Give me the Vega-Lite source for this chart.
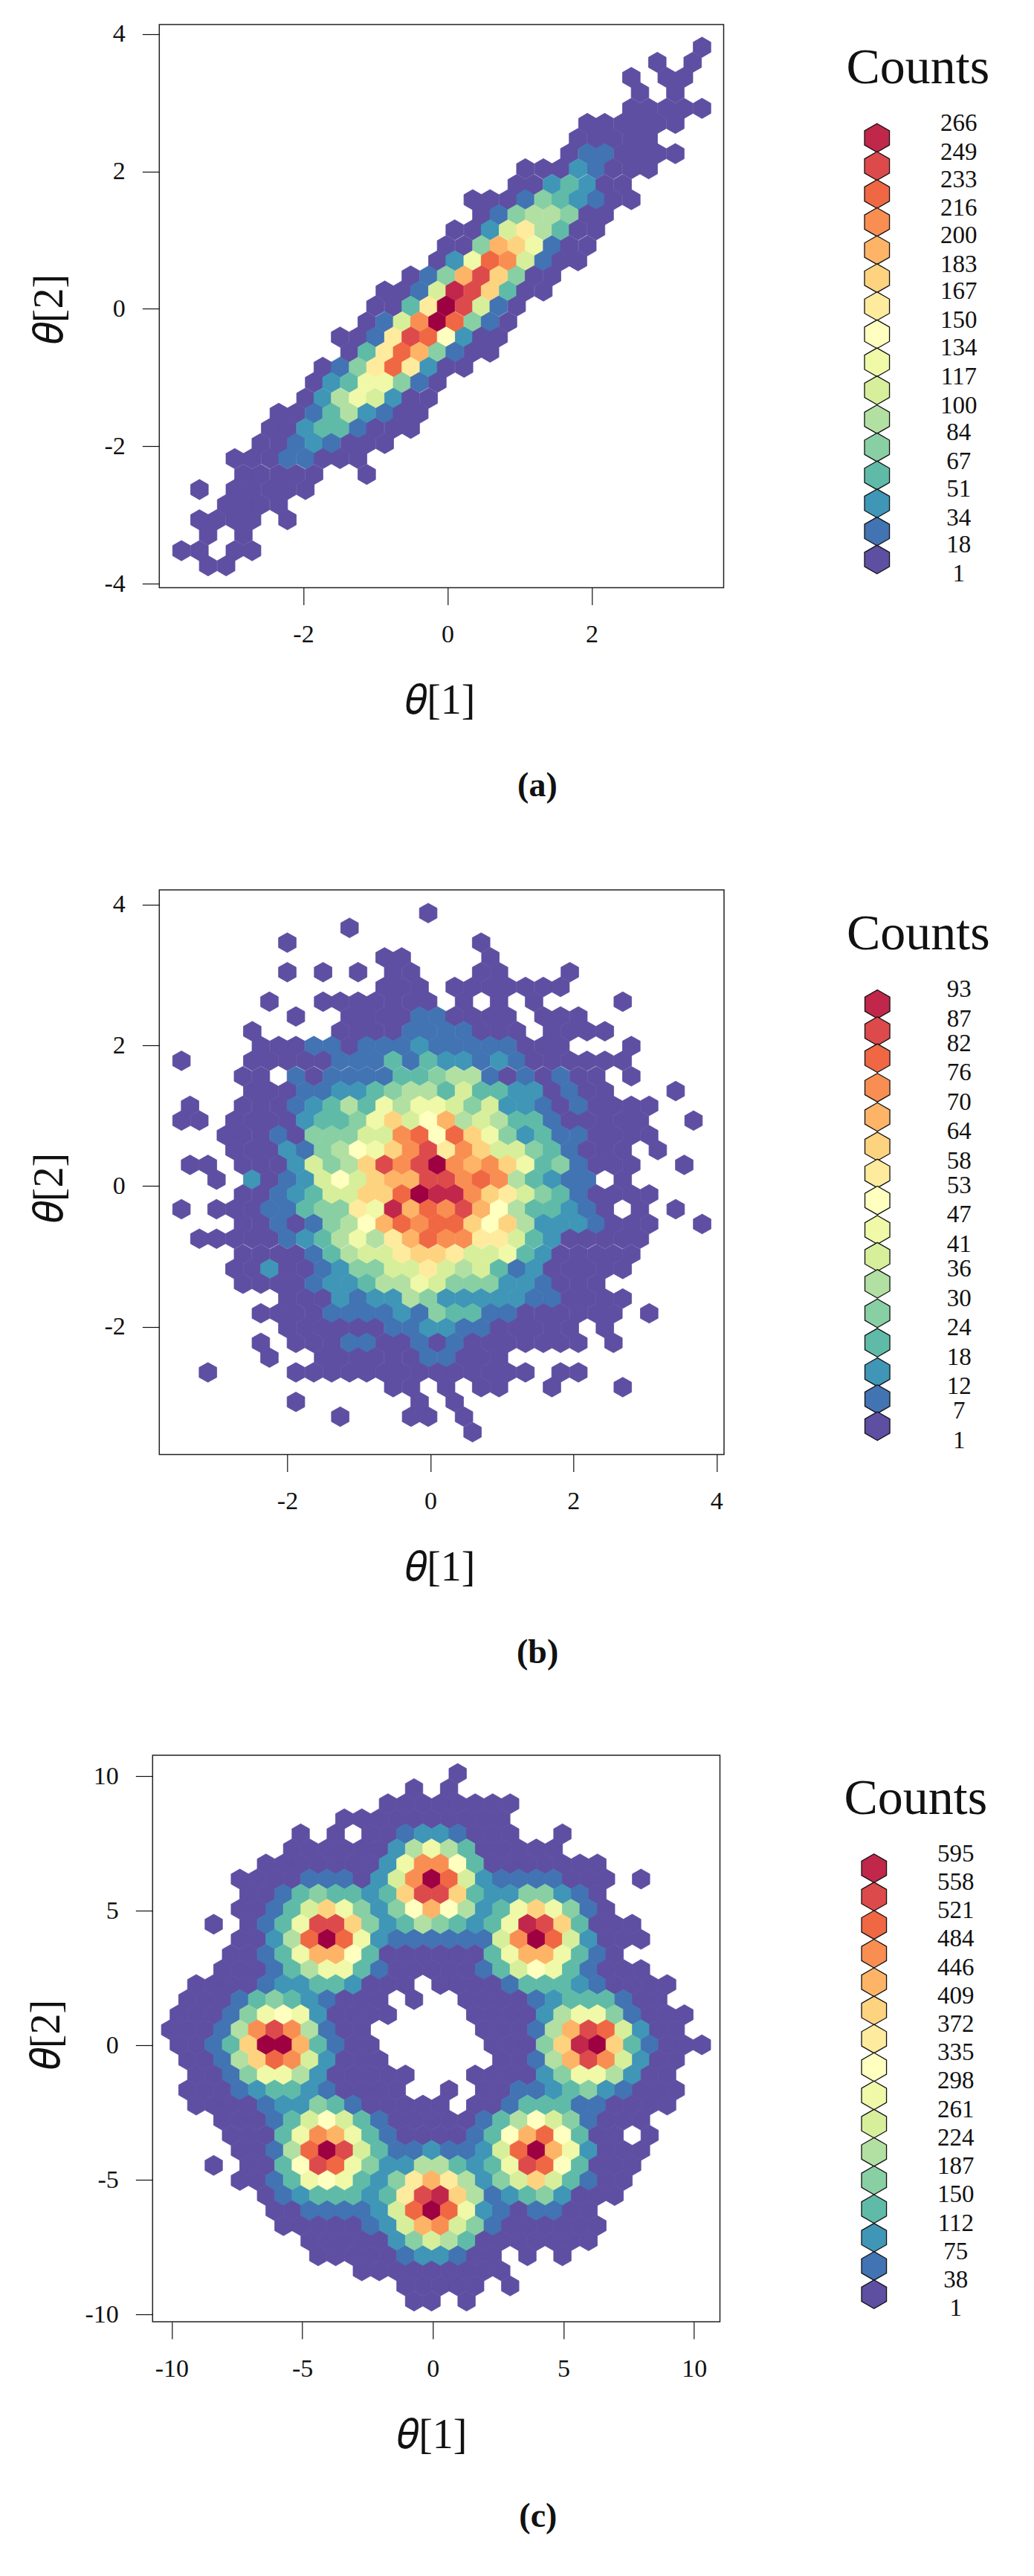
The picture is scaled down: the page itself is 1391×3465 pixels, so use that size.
{"$schema":"https://vega.github.io/schema/vega-lite/v6.json","autosize":{"type":"none"},"padding":{"left":205.3,"top":33,"right":1185.7,"bottom":3432},"background":"white",
"config":{"view":{"stroke":"#222","strokeWidth":1.5},"font":"Liberation Serif","axis":{"grid":false,"domain":false,"tickColor":"#111","tickSize":23,"tickWidth":1.2,"labelFont":"Liberation Serif","labelFontSize":34,"labelColor":"#111","titleFont":"Liberation Serif","titleFontSize":56,"titleFontWeight":"normal","titleColor":"#111","labelPadding":23,"titleBaseline":"middle"},"title":{"font":"Liberation Serif","baseline":"middle","color":"#111"}},
"datasets":{
"a":[
{"x":3.53,"y":3.81,"c":1},{"x":2.91,"y":3.59,"c":1},{"x":3.40,"y":3.59,"c":1},{"x":2.55,"y":3.37,"c":1},{"x":3.04,"y":3.37,"c":1},{"x":3.28,"y":3.37,"c":1},{"x":2.67,"y":3.15,"c":1},{"x":3.16,"y":3.15,"c":1},
{"x":2.55,"y":2.92,"c":1},{"x":2.79,"y":2.92,"c":1},{"x":3.04,"y":2.92,"c":1},{"x":3.28,"y":2.92,"c":1},{"x":3.53,"y":2.92,"c":1},
{"x":1.94,"y":2.70,"c":1},{"x":2.18,"y":2.70,"c":1},{"x":2.43,"y":2.70,"c":1},{"x":2.67,"y":2.70,"c":1},{"x":2.91,"y":2.70,"c":1},{"x":3.16,"y":2.70,"c":1},
{"x":1.81,"y":2.48,"c":1},{"x":2.06,"y":2.48,"c":1},{"x":2.30,"y":2.48,"c":1},{"x":2.55,"y":2.48,"c":1},{"x":2.79,"y":2.48,"c":1},
{"x":1.69,"y":2.26,"c":1},{"x":1.94,"y":2.26,"c":18},{"x":2.18,"y":2.26,"c":18},{"x":2.43,"y":2.26,"c":1},{"x":2.67,"y":2.26,"c":1},{"x":2.91,"y":2.26,"c":1},{"x":3.16,"y":2.26,"c":1},
{"x":1.08,"y":2.04,"c":1},{"x":1.33,"y":2.04,"c":1},{"x":1.57,"y":2.04,"c":1},{"x":1.81,"y":2.04,"c":34},{"x":2.06,"y":2.04,"c":18},{"x":2.30,"y":2.04,"c":1},{"x":2.55,"y":2.04,"c":1},{"x":2.79,"y":2.04,"c":1},
{"x":0.96,"y":1.81,"c":1},{"x":1.20,"y":1.81,"c":1},{"x":1.45,"y":1.81,"c":34},{"x":1.69,"y":1.81,"c":51},{"x":1.94,"y":1.81,"c":34},{"x":2.18,"y":1.81,"c":1},{"x":2.43,"y":1.81,"c":1},
{"x":0.35,"y":1.59,"c":1},{"x":0.59,"y":1.59,"c":1},{"x":0.84,"y":1.59,"c":1},{"x":1.08,"y":1.59,"c":18},{"x":1.33,"y":1.59,"c":67},{"x":1.57,"y":1.59,"c":51},{"x":1.81,"y":1.59,"c":34},{"x":2.06,"y":1.59,"c":18},{"x":2.30,"y":1.59,"c":1},{"x":2.55,"y":1.59,"c":1},
{"x":0.47,"y":1.37,"c":1},{"x":0.71,"y":1.37,"c":18},{"x":0.96,"y":1.37,"c":67},{"x":1.20,"y":1.37,"c":84},{"x":1.45,"y":1.37,"c":84},{"x":1.69,"y":1.37,"c":67},{"x":1.94,"y":1.37,"c":1},{"x":2.18,"y":1.37,"c":1},
{"x":0.10,"y":1.15,"c":1},{"x":0.35,"y":1.15,"c":1},{"x":0.59,"y":1.15,"c":34},{"x":0.84,"y":1.15,"c":100},{"x":1.08,"y":1.15,"c":150},{"x":1.33,"y":1.15,"c":84},{"x":1.57,"y":1.15,"c":51},{"x":1.81,"y":1.15,"c":1},{"x":2.06,"y":1.15,"c":1},
{"x":-0.02,"y":0.92,"c":1},{"x":0.23,"y":0.92,"c":1},{"x":0.47,"y":0.92,"c":67},{"x":0.71,"y":0.92,"c":183},{"x":0.96,"y":0.92,"c":167},{"x":1.20,"y":0.92,"c":117},{"x":1.45,"y":0.92,"c":18},{"x":1.69,"y":0.92,"c":1},{"x":1.94,"y":0.92,"c":1},
{"x":-0.14,"y":0.70,"c":1},{"x":0.10,"y":0.70,"c":34},{"x":0.35,"y":0.70,"c":117},{"x":0.59,"y":0.70,"c":216},{"x":0.84,"y":0.70,"c":200},{"x":1.08,"y":0.70,"c":100},{"x":1.33,"y":0.70,"c":18},{"x":1.57,"y":0.70,"c":1},{"x":1.81,"y":0.70,"c":1},
{"x":-0.51,"y":0.48,"c":1},{"x":-0.26,"y":0.48,"c":18},{"x":-0.02,"y":0.48,"c":67},{"x":0.23,"y":0.48,"c":183},{"x":0.47,"y":0.48,"c":233},{"x":0.71,"y":0.48,"c":167},{"x":0.96,"y":0.48,"c":67},{"x":1.20,"y":0.48,"c":1},{"x":1.45,"y":0.48,"c":1},
{"x":-0.87,"y":0.26,"c":1},{"x":-0.63,"y":0.26,"c":1},{"x":-0.39,"y":0.26,"c":18},{"x":-0.14,"y":0.26,"c":100},{"x":0.10,"y":0.26,"c":249},{"x":0.35,"y":0.26,"c":233},{"x":0.59,"y":0.26,"c":167},{"x":0.84,"y":0.26,"c":51},{"x":1.08,"y":0.26,"c":1},{"x":1.33,"y":0.26,"c":1},
{"x":-1.00,"y":0.04,"c":1},{"x":-0.75,"y":0.04,"c":1},{"x":-0.51,"y":0.04,"c":51},{"x":-0.26,"y":0.04,"c":150},{"x":-0.02,"y":0.04,"c":266},{"x":0.23,"y":0.04,"c":233},{"x":0.47,"y":0.04,"c":100},{"x":0.71,"y":0.04,"c":18},{"x":0.96,"y":0.04,"c":1},
{"x":-1.12,"y":-0.19,"c":1},{"x":-0.87,"y":-0.19,"c":18},{"x":-0.63,"y":-0.19,"c":100},{"x":-0.39,"y":-0.19,"c":200},{"x":-0.14,"y":-0.19,"c":266},{"x":0.10,"y":-0.19,"c":216},{"x":0.35,"y":-0.19,"c":67},{"x":0.59,"y":-0.19,"c":18},{"x":0.84,"y":-0.19,"c":1},
{"x":-1.49,"y":-0.41,"c":1},{"x":-1.24,"y":-0.41,"c":1},{"x":-1.00,"y":-0.41,"c":18},{"x":-0.75,"y":-0.41,"c":150},{"x":-0.51,"y":-0.41,"c":233},{"x":-0.26,"y":-0.41,"c":216},{"x":-0.02,"y":-0.41,"c":134},{"x":0.23,"y":-0.41,"c":34},{"x":0.47,"y":-0.41,"c":1},{"x":0.71,"y":-0.41,"c":1},
{"x":-1.36,"y":-0.63,"c":1},{"x":-1.12,"y":-0.63,"c":51},{"x":-0.87,"y":-0.63,"c":150},{"x":-0.63,"y":-0.63,"c":216},{"x":-0.39,"y":-0.63,"c":183},{"x":-0.14,"y":-0.63,"c":67},{"x":0.10,"y":-0.63,"c":18},{"x":0.35,"y":-0.63,"c":1},{"x":0.59,"y":-0.63,"c":1},
{"x":-1.73,"y":-0.85,"c":1},{"x":-1.49,"y":-0.85,"c":18},{"x":-1.24,"y":-0.85,"c":67},{"x":-1.00,"y":-0.85,"c":150},{"x":-0.75,"y":-0.85,"c":216},{"x":-0.51,"y":-0.85,"c":150},{"x":-0.26,"y":-0.85,"c":34},{"x":-0.02,"y":-0.85,"c":1},{"x":0.23,"y":-0.85,"c":1},
{"x":-1.85,"y":-1.07,"c":1},{"x":-1.61,"y":-1.07,"c":34},{"x":-1.36,"y":-1.07,"c":51},{"x":-1.12,"y":-1.07,"c":117},{"x":-0.87,"y":-1.07,"c":117},{"x":-0.63,"y":-1.07,"c":67},{"x":-0.39,"y":-1.07,"c":18},{"x":-0.14,"y":-1.07,"c":1},
{"x":-1.97,"y":-1.30,"c":1},{"x":-1.73,"y":-1.30,"c":34},{"x":-1.49,"y":-1.30,"c":84},{"x":-1.24,"y":-1.30,"c":117},{"x":-1.00,"y":-1.30,"c":100},{"x":-0.75,"y":-1.30,"c":34},{"x":-0.51,"y":-1.30,"c":1},{"x":-0.26,"y":-1.30,"c":1},
{"x":-2.34,"y":-1.52,"c":1},{"x":-2.10,"y":-1.52,"c":1},{"x":-1.85,"y":-1.52,"c":18},{"x":-1.61,"y":-1.52,"c":51},{"x":-1.36,"y":-1.52,"c":84},{"x":-1.12,"y":-1.52,"c":34},{"x":-0.87,"y":-1.52,"c":18},{"x":-0.63,"y":-1.52,"c":1},{"x":-0.39,"y":-1.52,"c":1},
{"x":-2.46,"y":-1.74,"c":1},{"x":-2.22,"y":-1.74,"c":1},{"x":-1.97,"y":-1.74,"c":34},{"x":-1.73,"y":-1.74,"c":51},{"x":-1.49,"y":-1.74,"c":51},{"x":-1.24,"y":-1.74,"c":18},{"x":-1.00,"y":-1.74,"c":1},{"x":-0.75,"y":-1.74,"c":1},{"x":-0.51,"y":-1.74,"c":1},
{"x":-2.59,"y":-1.96,"c":1},{"x":-2.34,"y":-1.96,"c":1},{"x":-2.10,"y":-1.96,"c":18},{"x":-1.85,"y":-1.96,"c":34},{"x":-1.61,"y":-1.96,"c":18},{"x":-1.36,"y":-1.96,"c":1},{"x":-1.12,"y":-1.96,"c":1},{"x":-0.87,"y":-1.96,"c":1},
{"x":-2.95,"y":-2.18,"c":1},{"x":-2.71,"y":-2.18,"c":1},{"x":-2.46,"y":-2.18,"c":1},{"x":-2.22,"y":-2.18,"c":18},{"x":-1.97,"y":-2.18,"c":18},{"x":-1.73,"y":-2.18,"c":1},{"x":-1.49,"y":-2.18,"c":1},{"x":-1.24,"y":-2.18,"c":1},
{"x":-2.83,"y":-2.41,"c":1},{"x":-2.59,"y":-2.41,"c":1},{"x":-2.34,"y":-2.41,"c":1},{"x":-2.10,"y":-2.41,"c":1},{"x":-1.85,"y":-2.41,"c":1},{"x":-1.12,"y":-2.41,"c":1},
{"x":-3.44,"y":-2.63,"c":1},{"x":-2.95,"y":-2.63,"c":1},{"x":-2.71,"y":-2.63,"c":1},{"x":-2.46,"y":-2.63,"c":1},{"x":-2.22,"y":-2.63,"c":1},{"x":-1.97,"y":-2.63,"c":1},
{"x":-3.07,"y":-2.85,"c":1},{"x":-2.83,"y":-2.85,"c":1},{"x":-2.59,"y":-2.85,"c":1},{"x":-2.34,"y":-2.85,"c":1},
{"x":-3.44,"y":-3.07,"c":1},{"x":-3.20,"y":-3.07,"c":1},{"x":-2.95,"y":-3.07,"c":1},{"x":-2.71,"y":-3.07,"c":1},{"x":-2.22,"y":-3.07,"c":1},
{"x":-3.32,"y":-3.29,"c":1},{"x":-2.83,"y":-3.29,"c":1},
{"x":-3.69,"y":-3.52,"c":1},{"x":-3.44,"y":-3.52,"c":1},{"x":-2.95,"y":-3.52,"c":1},{"x":-2.71,"y":-3.52,"c":1},
{"x":-3.32,"y":-3.74,"c":1},{"x":-3.07,"y":-3.74,"c":1}
],
"b":[
{"x":-0.03,"y":3.88,"c":1},{"x":-1.13,"y":3.67,"c":1},{"x":-2.00,"y":3.46,"c":1},{"x":0.71,"y":3.46,"c":1},{"x":-0.64,"y":3.25,"c":1},{"x":-0.40,"y":3.25,"c":1},{"x":0.84,"y":3.25,"c":1},
{"x":-2.00,"y":3.04,"c":1},{"x":-1.50,"y":3.04,"c":1},{"x":-1.01,"y":3.04,"c":1},{"x":-0.52,"y":3.04,"c":1},{"x":-0.27,"y":3.04,"c":1},{"x":0.71,"y":3.04,"c":1},{"x":0.96,"y":3.04,"c":1},{"x":1.95,"y":3.04,"c":1},
{"x":-0.64,"y":2.83,"c":1},{"x":-0.40,"y":2.83,"c":1},{"x":-0.15,"y":2.83,"c":1},{"x":0.34,"y":2.83,"c":1},{"x":0.59,"y":2.83,"c":1},{"x":0.84,"y":2.83,"c":1},{"x":1.08,"y":2.83,"c":1},{"x":1.33,"y":2.83,"c":1},{"x":1.58,"y":2.83,"c":1},{"x":1.82,"y":2.83,"c":1},
{"x":-2.25,"y":2.62,"c":1},{"x":-1.50,"y":2.62,"c":1},{"x":-1.26,"y":2.62,"c":1},{"x":-1.01,"y":2.62,"c":1},{"x":-0.77,"y":2.62,"c":1},{"x":-0.52,"y":2.62,"c":1},{"x":-0.27,"y":2.62,"c":1},{"x":-0.03,"y":2.62,"c":1},{"x":0.47,"y":2.62,"c":1},{"x":0.96,"y":2.62,"c":1},{"x":1.45,"y":2.62,"c":1},{"x":2.69,"y":2.62,"c":1},
{"x":-1.88,"y":2.41,"c":1},{"x":-1.13,"y":2.41,"c":1},{"x":-0.89,"y":2.41,"c":1},{"x":-0.64,"y":2.41,"c":1},{"x":-0.40,"y":2.41,"c":1},{"x":-0.15,"y":2.41,"c":7},{"x":0.10,"y":2.41,"c":7},{"x":0.34,"y":2.41,"c":1},{"x":0.59,"y":2.41,"c":1},{"x":0.84,"y":2.41,"c":1},{"x":1.08,"y":2.41,"c":1},{"x":1.58,"y":2.41,"c":1},{"x":1.82,"y":2.41,"c":1},{"x":2.07,"y":2.41,"c":1},
{"x":-2.49,"y":2.20,"c":1},{"x":-1.26,"y":2.20,"c":1},{"x":-1.01,"y":2.20,"c":1},{"x":-0.77,"y":2.20,"c":1},{"x":-0.52,"y":2.20,"c":1},{"x":-0.27,"y":2.20,"c":7},{"x":-0.03,"y":2.20,"c":7},{"x":0.22,"y":2.20,"c":7},{"x":0.47,"y":2.20,"c":7},{"x":0.71,"y":2.20,"c":1},{"x":0.96,"y":2.20,"c":1},{"x":1.21,"y":2.20,"c":1},{"x":1.70,"y":2.20,"c":1},{"x":1.95,"y":2.20,"c":1},{"x":2.19,"y":2.20,"c":1},{"x":2.44,"y":2.20,"c":1},
{"x":-2.37,"y":1.99,"c":1},{"x":-2.12,"y":1.99,"c":1},{"x":-1.88,"y":1.99,"c":1},{"x":-1.63,"y":1.99,"c":7},{"x":-1.38,"y":1.99,"c":7},{"x":-1.13,"y":1.99,"c":1},{"x":-0.89,"y":1.99,"c":7},{"x":-0.64,"y":1.99,"c":7},{"x":-0.40,"y":1.99,"c":7},{"x":-0.15,"y":1.99,"c":12},{"x":0.10,"y":1.99,"c":7},{"x":0.34,"y":1.99,"c":7},{"x":0.59,"y":1.99,"c":7},{"x":0.84,"y":1.99,"c":7},{"x":1.08,"y":1.99,"c":7},{"x":1.33,"y":1.99,"c":1},{"x":1.58,"y":1.99,"c":1},{"x":1.82,"y":1.99,"c":1},{"x":2.81,"y":1.99,"c":1},
{"x":-3.48,"y":1.78,"c":1},{"x":-2.49,"y":1.78,"c":1},{"x":-2.25,"y":1.78,"c":1},{"x":-2.00,"y":1.78,"c":1},{"x":-1.75,"y":1.78,"c":1},{"x":-1.50,"y":1.78,"c":1},{"x":-1.26,"y":1.78,"c":7},{"x":-1.01,"y":1.78,"c":7},{"x":-0.77,"y":1.78,"c":7},{"x":-0.52,"y":1.78,"c":18},{"x":-0.27,"y":1.78,"c":7},{"x":-0.03,"y":1.78,"c":18},{"x":0.22,"y":1.78,"c":12},{"x":0.47,"y":1.78,"c":12},{"x":0.71,"y":1.78,"c":7},{"x":0.96,"y":1.78,"c":12},{"x":1.21,"y":1.78,"c":7},{"x":1.45,"y":1.78,"c":1},{"x":1.70,"y":1.78,"c":1},{"x":1.95,"y":1.78,"c":1},{"x":2.19,"y":1.78,"c":1},{"x":2.44,"y":1.78,"c":1},{"x":2.69,"y":1.78,"c":1},
{"x":-2.62,"y":1.56,"c":1},{"x":-2.37,"y":1.56,"c":1},{"x":-1.88,"y":1.56,"c":7},{"x":-1.63,"y":1.56,"c":1},{"x":-1.38,"y":1.56,"c":7},{"x":-1.13,"y":1.56,"c":7},{"x":-0.89,"y":1.56,"c":7},{"x":-0.64,"y":1.56,"c":7},{"x":-0.40,"y":1.56,"c":18},{"x":-0.15,"y":1.56,"c":18},{"x":0.10,"y":1.56,"c":24},{"x":0.34,"y":1.56,"c":30},{"x":0.59,"y":1.56,"c":30},{"x":0.84,"y":1.56,"c":7},{"x":1.08,"y":1.56,"c":1},{"x":1.33,"y":1.56,"c":7},{"x":1.58,"y":1.56,"c":1},{"x":1.82,"y":1.56,"c":7},{"x":2.07,"y":1.56,"c":1},{"x":2.32,"y":1.56,"c":1},{"x":2.81,"y":1.56,"c":1},
{"x":-2.49,"y":1.35,"c":1},{"x":-2.25,"y":1.35,"c":1},{"x":-2.00,"y":1.35,"c":1},{"x":-1.75,"y":1.35,"c":7},{"x":-1.50,"y":1.35,"c":7},{"x":-1.26,"y":1.35,"c":12},{"x":-1.01,"y":1.35,"c":12},{"x":-0.77,"y":1.35,"c":18},{"x":-0.52,"y":1.35,"c":24},{"x":-0.27,"y":1.35,"c":30},{"x":-0.03,"y":1.35,"c":30},{"x":0.22,"y":1.35,"c":18},{"x":0.47,"y":1.35,"c":36},{"x":0.71,"y":1.35,"c":18},{"x":0.96,"y":1.35,"c":18},{"x":1.21,"y":1.35,"c":12},{"x":1.45,"y":1.35,"c":12},{"x":1.70,"y":1.35,"c":1},{"x":1.95,"y":1.35,"c":7},{"x":2.19,"y":1.35,"c":1},{"x":2.44,"y":1.35,"c":1},{"x":3.43,"y":1.35,"c":1},
{"x":-3.36,"y":1.14,"c":1},{"x":-2.62,"y":1.14,"c":1},{"x":-2.37,"y":1.14,"c":1},{"x":-2.12,"y":1.14,"c":1},{"x":-1.88,"y":1.14,"c":7},{"x":-1.63,"y":1.14,"c":12},{"x":-1.38,"y":1.14,"c":18},{"x":-1.13,"y":1.14,"c":30},{"x":-0.89,"y":1.14,"c":18},{"x":-0.64,"y":1.14,"c":41},{"x":-0.40,"y":1.14,"c":30},{"x":-0.15,"y":1.14,"c":41},{"x":0.10,"y":1.14,"c":41},{"x":0.34,"y":1.14,"c":36},{"x":0.59,"y":1.14,"c":24},{"x":0.84,"y":1.14,"c":36},{"x":1.08,"y":1.14,"c":12},{"x":1.33,"y":1.14,"c":12},{"x":1.58,"y":1.14,"c":7},{"x":1.82,"y":1.14,"c":1},{"x":2.07,"y":1.14,"c":7},{"x":2.32,"y":1.14,"c":1},{"x":2.56,"y":1.14,"c":1},{"x":2.81,"y":1.14,"c":1},{"x":3.06,"y":1.14,"c":1},
{"x":-3.48,"y":0.93,"c":1},{"x":-3.23,"y":0.93,"c":1},{"x":-2.74,"y":0.93,"c":1},{"x":-2.49,"y":0.93,"c":1},{"x":-2.25,"y":0.93,"c":1},{"x":-2.00,"y":0.93,"c":1},{"x":-1.75,"y":0.93,"c":12},{"x":-1.50,"y":0.93,"c":18},{"x":-1.26,"y":0.93,"c":18},{"x":-1.01,"y":0.93,"c":24},{"x":-0.77,"y":0.93,"c":41},{"x":-0.52,"y":0.93,"c":58},{"x":-0.27,"y":0.93,"c":36},{"x":-0.03,"y":0.93,"c":47},{"x":0.22,"y":0.93,"c":64},{"x":0.47,"y":0.93,"c":30},{"x":0.71,"y":0.93,"c":36},{"x":0.96,"y":0.93,"c":30},{"x":1.21,"y":0.93,"c":18},{"x":1.45,"y":0.93,"c":18},{"x":1.70,"y":0.93,"c":7},{"x":1.95,"y":0.93,"c":1},{"x":2.19,"y":0.93,"c":1},{"x":2.44,"y":0.93,"c":1},{"x":2.69,"y":0.93,"c":1},{"x":2.93,"y":0.93,"c":1},{"x":3.68,"y":0.93,"c":1},
{"x":-2.86,"y":0.72,"c":1},{"x":-2.62,"y":0.72,"c":1},{"x":-2.37,"y":0.72,"c":1},{"x":-2.12,"y":0.72,"c":7},{"x":-1.88,"y":0.72,"c":1},{"x":-1.63,"y":0.72,"c":24},{"x":-1.38,"y":0.72,"c":24},{"x":-1.13,"y":0.72,"c":24},{"x":-0.89,"y":0.72,"c":36},{"x":-0.64,"y":0.72,"c":36},{"x":-0.40,"y":0.72,"c":70},{"x":-0.15,"y":0.72,"c":76},{"x":0.10,"y":0.72,"c":47},{"x":0.34,"y":0.72,"c":76},{"x":0.59,"y":0.72,"c":58},{"x":0.84,"y":0.72,"c":41},{"x":1.08,"y":0.72,"c":24},{"x":1.33,"y":0.72,"c":12},{"x":1.58,"y":0.72,"c":18},{"x":1.82,"y":0.72,"c":7},{"x":2.07,"y":0.72,"c":7},{"x":2.32,"y":0.72,"c":1},{"x":2.56,"y":0.72,"c":1},{"x":2.81,"y":0.72,"c":1},{"x":3.06,"y":0.72,"c":1},
{"x":-2.74,"y":0.51,"c":1},{"x":-2.49,"y":0.51,"c":1},{"x":-2.25,"y":0.51,"c":1},{"x":-2.00,"y":0.51,"c":12},{"x":-1.75,"y":0.51,"c":7},{"x":-1.50,"y":0.51,"c":24},{"x":-1.26,"y":0.51,"c":30},{"x":-1.01,"y":0.51,"c":47},{"x":-0.77,"y":0.51,"c":41},{"x":-0.52,"y":0.51,"c":58},{"x":-0.27,"y":0.51,"c":70},{"x":-0.03,"y":0.51,"c":82},{"x":0.22,"y":0.51,"c":53},{"x":0.47,"y":0.51,"c":70},{"x":0.71,"y":0.51,"c":58},{"x":0.96,"y":0.51,"c":36},{"x":1.21,"y":0.51,"c":36},{"x":1.45,"y":0.51,"c":24},{"x":1.70,"y":0.51,"c":18},{"x":1.95,"y":0.51,"c":7},{"x":2.19,"y":0.51,"c":1},{"x":2.44,"y":0.51,"c":1},{"x":2.69,"y":0.51,"c":1},{"x":3.18,"y":0.51,"c":1},
{"x":-3.36,"y":0.30,"c":1},{"x":-3.11,"y":0.30,"c":1},{"x":-2.62,"y":0.30,"c":1},{"x":-2.37,"y":0.30,"c":1},{"x":-2.12,"y":0.30,"c":1},{"x":-1.88,"y":0.30,"c":12},{"x":-1.63,"y":0.30,"c":36},{"x":-1.38,"y":0.30,"c":24},{"x":-1.13,"y":0.30,"c":30},{"x":-0.89,"y":0.30,"c":58},{"x":-0.64,"y":0.30,"c":82},{"x":-0.40,"y":0.30,"c":70},{"x":-0.15,"y":0.30,"c":82},{"x":0.10,"y":0.30,"c":93},{"x":0.34,"y":0.30,"c":70},{"x":0.59,"y":0.30,"c":64},{"x":0.84,"y":0.30,"c":70},{"x":1.08,"y":0.30,"c":58},{"x":1.33,"y":0.30,"c":41},{"x":1.58,"y":0.30,"c":18},{"x":1.82,"y":0.30,"c":24},{"x":2.07,"y":0.30,"c":7},{"x":2.32,"y":0.30,"c":1},{"x":2.56,"y":0.30,"c":1},{"x":2.81,"y":0.30,"c":1},{"x":3.55,"y":0.30,"c":1},
{"x":-2.99,"y":0.09,"c":1},{"x":-2.49,"y":0.09,"c":12},{"x":-2.25,"y":0.09,"c":1},{"x":-2.00,"y":0.09,"c":7},{"x":-1.75,"y":0.09,"c":12},{"x":-1.50,"y":0.09,"c":36},{"x":-1.26,"y":0.09,"c":47},{"x":-1.01,"y":0.09,"c":36},{"x":-0.77,"y":0.09,"c":58},{"x":-0.52,"y":0.09,"c":64},{"x":-0.27,"y":0.09,"c":64},{"x":-0.03,"y":0.09,"c":82},{"x":0.22,"y":0.09,"c":82},{"x":0.47,"y":0.09,"c":70},{"x":0.71,"y":0.09,"c":76},{"x":0.96,"y":0.09,"c":70},{"x":1.21,"y":0.09,"c":30},{"x":1.45,"y":0.09,"c":18},{"x":1.70,"y":0.09,"c":12},{"x":1.95,"y":0.09,"c":7},{"x":2.19,"y":0.09,"c":7},{"x":2.69,"y":0.09,"c":1},
{"x":-2.62,"y":-0.12,"c":1},{"x":-2.37,"y":-0.12,"c":1},{"x":-2.12,"y":-0.12,"c":7},{"x":-1.88,"y":-0.12,"c":12},{"x":-1.63,"y":-0.12,"c":18},{"x":-1.38,"y":-0.12,"c":36},{"x":-1.13,"y":-0.12,"c":36},{"x":-0.89,"y":-0.12,"c":58},{"x":-0.64,"y":-0.12,"c":58},{"x":-0.40,"y":-0.12,"c":76},{"x":-0.15,"y":-0.12,"c":93},{"x":0.10,"y":-0.12,"c":87},{"x":0.34,"y":-0.12,"c":87},{"x":0.59,"y":-0.12,"c":70},{"x":0.84,"y":-0.12,"c":58},{"x":1.08,"y":-0.12,"c":53},{"x":1.33,"y":-0.12,"c":36},{"x":1.58,"y":-0.12,"c":24},{"x":1.82,"y":-0.12,"c":18},{"x":2.07,"y":-0.12,"c":7},{"x":2.32,"y":-0.12,"c":1},{"x":2.56,"y":-0.12,"c":1},{"x":2.81,"y":-0.12,"c":1},{"x":3.06,"y":-0.12,"c":1},
{"x":-3.48,"y":-0.33,"c":1},{"x":-2.99,"y":-0.33,"c":1},{"x":-2.74,"y":-0.33,"c":1},{"x":-2.49,"y":-0.33,"c":1},{"x":-2.25,"y":-0.33,"c":7},{"x":-2.00,"y":-0.33,"c":7},{"x":-1.75,"y":-0.33,"c":18},{"x":-1.50,"y":-0.33,"c":24},{"x":-1.26,"y":-0.33,"c":24},{"x":-1.01,"y":-0.33,"c":53},{"x":-0.77,"y":-0.33,"c":41},{"x":-0.52,"y":-0.33,"c":87},{"x":-0.27,"y":-0.33,"c":64},{"x":-0.03,"y":-0.33,"c":76},{"x":0.22,"y":-0.33,"c":70},{"x":0.47,"y":-0.33,"c":82},{"x":0.71,"y":-0.33,"c":64},{"x":0.96,"y":-0.33,"c":47},{"x":1.21,"y":-0.33,"c":30},{"x":1.45,"y":-0.33,"c":18},{"x":1.70,"y":-0.33,"c":18},{"x":1.95,"y":-0.33,"c":12},{"x":2.19,"y":-0.33,"c":7},{"x":2.44,"y":-0.33,"c":1},{"x":2.93,"y":-0.33,"c":1},{"x":3.43,"y":-0.33,"c":1},
{"x":-2.62,"y":-0.54,"c":1},{"x":-2.37,"y":-0.54,"c":1},{"x":-2.12,"y":-0.54,"c":7},{"x":-1.88,"y":-0.54,"c":1},{"x":-1.63,"y":-0.54,"c":7},{"x":-1.38,"y":-0.54,"c":24},{"x":-1.13,"y":-0.54,"c":30},{"x":-0.89,"y":-0.54,"c":47},{"x":-0.64,"y":-0.54,"c":64},{"x":-0.40,"y":-0.54,"c":76},{"x":-0.15,"y":-0.54,"c":70},{"x":0.10,"y":-0.54,"c":76},{"x":0.34,"y":-0.54,"c":76},{"x":0.59,"y":-0.54,"c":58},{"x":0.84,"y":-0.54,"c":47},{"x":1.08,"y":-0.54,"c":58},{"x":1.33,"y":-0.54,"c":30},{"x":1.58,"y":-0.54,"c":12},{"x":1.82,"y":-0.54,"c":12},{"x":2.07,"y":-0.54,"c":12},{"x":2.32,"y":-0.54,"c":7},{"x":2.56,"y":-0.54,"c":1},{"x":2.81,"y":-0.54,"c":1},{"x":3.06,"y":-0.54,"c":1},{"x":3.80,"y":-0.54,"c":1},
{"x":-3.23,"y":-0.75,"c":1},{"x":-2.99,"y":-0.75,"c":1},{"x":-2.74,"y":-0.75,"c":1},{"x":-2.49,"y":-0.75,"c":1},{"x":-2.25,"y":-0.75,"c":1},{"x":-2.00,"y":-0.75,"c":7},{"x":-1.75,"y":-0.75,"c":12},{"x":-1.50,"y":-0.75,"c":18},{"x":-1.26,"y":-0.75,"c":30},{"x":-1.01,"y":-0.75,"c":41},{"x":-0.77,"y":-0.75,"c":30},{"x":-0.52,"y":-0.75,"c":53},{"x":-0.27,"y":-0.75,"c":64},{"x":-0.03,"y":-0.75,"c":76},{"x":0.22,"y":-0.75,"c":70},{"x":0.47,"y":-0.75,"c":70},{"x":0.71,"y":-0.75,"c":53},{"x":0.96,"y":-0.75,"c":53},{"x":1.21,"y":-0.75,"c":36},{"x":1.45,"y":-0.75,"c":18},{"x":1.70,"y":-0.75,"c":12},{"x":1.95,"y":-0.75,"c":1},{"x":2.19,"y":-0.75,"c":1},{"x":2.44,"y":-0.75,"c":1},{"x":2.69,"y":-0.75,"c":1},{"x":2.93,"y":-0.75,"c":1},
{"x":-2.62,"y":-0.97,"c":1},{"x":-2.37,"y":-0.97,"c":1},{"x":-2.12,"y":-0.97,"c":1},{"x":-1.88,"y":-0.97,"c":1},{"x":-1.63,"y":-0.97,"c":7},{"x":-1.38,"y":-0.97,"c":18},{"x":-1.13,"y":-0.97,"c":30},{"x":-0.89,"y":-0.97,"c":36},{"x":-0.64,"y":-0.97,"c":36},{"x":-0.40,"y":-0.97,"c":53},{"x":-0.15,"y":-0.97,"c":58},{"x":0.10,"y":-0.97,"c":58},{"x":0.34,"y":-0.97,"c":53},{"x":0.59,"y":-0.97,"c":36},{"x":0.84,"y":-0.97,"c":36},{"x":1.08,"y":-0.97,"c":41},{"x":1.33,"y":-0.97,"c":18},{"x":1.58,"y":-0.97,"c":12},{"x":1.82,"y":-0.97,"c":1},{"x":2.07,"y":-0.97,"c":1},{"x":2.32,"y":-0.97,"c":1},{"x":2.56,"y":-0.97,"c":1},{"x":2.81,"y":-0.97,"c":1},
{"x":-2.74,"y":-1.18,"c":1},{"x":-2.49,"y":-1.18,"c":1},{"x":-2.25,"y":-1.18,"c":12},{"x":-2.00,"y":-1.18,"c":1},{"x":-1.75,"y":-1.18,"c":1},{"x":-1.50,"y":-1.18,"c":7},{"x":-1.26,"y":-1.18,"c":12},{"x":-1.01,"y":-1.18,"c":24},{"x":-0.77,"y":-1.18,"c":24},{"x":-0.52,"y":-1.18,"c":36},{"x":-0.27,"y":-1.18,"c":36},{"x":-0.03,"y":-1.18,"c":53},{"x":0.22,"y":-1.18,"c":36},{"x":0.47,"y":-1.18,"c":30},{"x":0.71,"y":-1.18,"c":36},{"x":0.96,"y":-1.18,"c":18},{"x":1.21,"y":-1.18,"c":7},{"x":1.45,"y":-1.18,"c":12},{"x":1.70,"y":-1.18,"c":1},{"x":1.95,"y":-1.18,"c":1},{"x":2.19,"y":-1.18,"c":1},{"x":2.44,"y":-1.18,"c":1},{"x":2.69,"y":-1.18,"c":1},
{"x":-2.62,"y":-1.39,"c":1},{"x":-2.37,"y":-1.39,"c":1},{"x":-2.12,"y":-1.39,"c":1},{"x":-1.88,"y":-1.39,"c":1},{"x":-1.63,"y":-1.39,"c":7},{"x":-1.38,"y":-1.39,"c":12},{"x":-1.13,"y":-1.39,"c":12},{"x":-0.89,"y":-1.39,"c":18},{"x":-0.64,"y":-1.39,"c":30},{"x":-0.40,"y":-1.39,"c":30},{"x":-0.15,"y":-1.39,"c":41},{"x":0.10,"y":-1.39,"c":36},{"x":0.34,"y":-1.39,"c":24},{"x":0.59,"y":-1.39,"c":24},{"x":0.84,"y":-1.39,"c":24},{"x":1.08,"y":-1.39,"c":12},{"x":1.33,"y":-1.39,"c":12},{"x":1.58,"y":-1.39,"c":7},{"x":1.82,"y":-1.39,"c":1},{"x":2.07,"y":-1.39,"c":1},{"x":2.32,"y":-1.39,"c":1},
{"x":-2.00,"y":-1.60,"c":1},{"x":-1.75,"y":-1.60,"c":1},{"x":-1.50,"y":-1.60,"c":1},{"x":-1.26,"y":-1.60,"c":12},{"x":-1.01,"y":-1.60,"c":7},{"x":-0.77,"y":-1.60,"c":12},{"x":-0.52,"y":-1.60,"c":12},{"x":-0.27,"y":-1.60,"c":30},{"x":-0.03,"y":-1.60,"c":24},{"x":0.22,"y":-1.60,"c":12},{"x":0.47,"y":-1.60,"c":12},{"x":0.71,"y":-1.60,"c":12},{"x":0.96,"y":-1.60,"c":12},{"x":1.21,"y":-1.60,"c":12},{"x":1.45,"y":-1.60,"c":7},{"x":1.70,"y":-1.60,"c":7},{"x":1.95,"y":-1.60,"c":1},{"x":2.19,"y":-1.60,"c":1},{"x":2.44,"y":-1.60,"c":1},{"x":2.69,"y":-1.60,"c":1},
{"x":-2.37,"y":-1.81,"c":1},{"x":-2.12,"y":-1.81,"c":1},{"x":-1.88,"y":-1.81,"c":1},{"x":-1.63,"y":-1.81,"c":1},{"x":-1.38,"y":-1.81,"c":7},{"x":-1.13,"y":-1.81,"c":7},{"x":-0.89,"y":-1.81,"c":7},{"x":-0.64,"y":-1.81,"c":7},{"x":-0.40,"y":-1.81,"c":12},{"x":-0.15,"y":-1.81,"c":7},{"x":0.10,"y":-1.81,"c":24},{"x":0.34,"y":-1.81,"c":18},{"x":0.59,"y":-1.81,"c":18},{"x":0.84,"y":-1.81,"c":7},{"x":1.08,"y":-1.81,"c":7},{"x":1.33,"y":-1.81,"c":1},{"x":1.58,"y":-1.81,"c":1},{"x":1.82,"y":-1.81,"c":1},{"x":2.07,"y":-1.81,"c":1},{"x":2.32,"y":-1.81,"c":1},{"x":2.56,"y":-1.81,"c":1},{"x":3.06,"y":-1.81,"c":1},
{"x":-2.00,"y":-2.02,"c":1},{"x":-1.75,"y":-2.02,"c":1},{"x":-1.50,"y":-2.02,"c":1},{"x":-1.26,"y":-2.02,"c":1},{"x":-1.01,"y":-2.02,"c":1},{"x":-0.77,"y":-2.02,"c":1},{"x":-0.52,"y":-2.02,"c":7},{"x":-0.27,"y":-2.02,"c":7},{"x":-0.03,"y":-2.02,"c":12},{"x":0.22,"y":-2.02,"c":12},{"x":0.47,"y":-2.02,"c":7},{"x":0.71,"y":-2.02,"c":7},{"x":0.96,"y":-2.02,"c":1},{"x":1.21,"y":-2.02,"c":1},{"x":1.45,"y":-2.02,"c":1},{"x":1.70,"y":-2.02,"c":1},{"x":1.95,"y":-2.02,"c":1},{"x":2.44,"y":-2.02,"c":1},
{"x":-2.37,"y":-2.23,"c":1},{"x":-1.88,"y":-2.23,"c":1},{"x":-1.63,"y":-2.23,"c":1},{"x":-1.38,"y":-2.23,"c":1},{"x":-1.13,"y":-2.23,"c":7},{"x":-0.89,"y":-2.23,"c":7},{"x":-0.64,"y":-2.23,"c":1},{"x":-0.40,"y":-2.23,"c":1},{"x":-0.15,"y":-2.23,"c":7},{"x":0.10,"y":-2.23,"c":1},{"x":0.34,"y":-2.23,"c":7},{"x":0.59,"y":-2.23,"c":1},{"x":0.84,"y":-2.23,"c":1},{"x":1.08,"y":-2.23,"c":1},{"x":1.33,"y":-2.23,"c":1},{"x":1.58,"y":-2.23,"c":1},{"x":1.82,"y":-2.23,"c":1},{"x":2.07,"y":-2.23,"c":1},{"x":2.56,"y":-2.23,"c":1},
{"x":-2.25,"y":-2.44,"c":1},{"x":-1.50,"y":-2.44,"c":1},{"x":-1.26,"y":-2.44,"c":1},{"x":-1.01,"y":-2.44,"c":1},{"x":-0.77,"y":-2.44,"c":1},{"x":-0.52,"y":-2.44,"c":1},{"x":-0.27,"y":-2.44,"c":1},{"x":-0.03,"y":-2.44,"c":7},{"x":0.22,"y":-2.44,"c":7},{"x":0.47,"y":-2.44,"c":1},{"x":0.71,"y":-2.44,"c":1},{"x":0.96,"y":-2.44,"c":1},
{"x":-3.11,"y":-2.65,"c":1},{"x":-1.88,"y":-2.65,"c":1},{"x":-1.63,"y":-2.65,"c":1},{"x":-1.38,"y":-2.65,"c":1},{"x":-1.13,"y":-2.65,"c":1},{"x":-0.89,"y":-2.65,"c":1},{"x":-0.64,"y":-2.65,"c":1},{"x":-0.40,"y":-2.65,"c":1},{"x":-0.15,"y":-2.65,"c":1},{"x":0.10,"y":-2.65,"c":1},{"x":0.34,"y":-2.65,"c":1},{"x":0.59,"y":-2.65,"c":1},{"x":0.84,"y":-2.65,"c":1},{"x":1.08,"y":-2.65,"c":1},{"x":1.33,"y":-2.65,"c":1},{"x":1.82,"y":-2.65,"c":1},{"x":2.07,"y":-2.65,"c":1},
{"x":-0.52,"y":-2.86,"c":1},{"x":-0.27,"y":-2.86,"c":1},{"x":0.22,"y":-2.86,"c":1},{"x":0.71,"y":-2.86,"c":1},{"x":0.96,"y":-2.86,"c":1},{"x":1.70,"y":-2.86,"c":1},{"x":2.69,"y":-2.86,"c":1},
{"x":-1.88,"y":-3.07,"c":1},{"x":-0.15,"y":-3.07,"c":1},{"x":0.34,"y":-3.07,"c":1},
{"x":-1.26,"y":-3.28,"c":1},{"x":-0.27,"y":-3.28,"c":1},{"x":-0.03,"y":-3.28,"c":1},{"x":0.47,"y":-3.28,"c":1},{"x":0.59,"y":-3.50,"c":1}
],
"c":[
{"x":0.95,"y":10.10,"c":1},{"x":-0.72,"y":9.54,"c":1},{"x":0.62,"y":9.54,"c":1},
{"x":-1.72,"y":8.98,"c":1},{"x":-1.05,"y":8.98,"c":1},{"x":-0.38,"y":8.98,"c":1},{"x":0.29,"y":8.98,"c":1},{"x":0.95,"y":8.98,"c":1},{"x":1.62,"y":8.98,"c":1},{"x":2.29,"y":8.98,"c":1},{"x":2.96,"y":8.98,"c":1},
{"x":-3.39,"y":8.42,"c":1},{"x":-2.72,"y":8.42,"c":1},{"x":-2.05,"y":8.42,"c":1},{"x":-1.38,"y":8.42,"c":1},{"x":-0.72,"y":8.42,"c":1},{"x":-0.05,"y":8.42,"c":1},{"x":0.62,"y":8.42,"c":1},{"x":1.29,"y":8.42,"c":1},{"x":1.96,"y":8.42,"c":1},{"x":2.62,"y":8.42,"c":1},
{"x":-5.06,"y":7.86,"c":1},{"x":-3.72,"y":7.86,"c":1},{"x":-2.39,"y":7.86,"c":1},{"x":-1.72,"y":7.86,"c":1},{"x":-1.05,"y":7.86,"c":38},{"x":-0.38,"y":7.86,"c":75},{"x":0.29,"y":7.86,"c":75},{"x":0.95,"y":7.86,"c":38},{"x":1.62,"y":7.86,"c":1},{"x":2.29,"y":7.86,"c":1},{"x":2.96,"y":7.86,"c":1},{"x":4.96,"y":7.86,"c":1},
{"x":-5.39,"y":7.30,"c":1},{"x":-4.72,"y":7.30,"c":1},{"x":-4.05,"y":7.30,"c":1},{"x":-3.39,"y":7.30,"c":1},{"x":-2.72,"y":7.30,"c":1},{"x":-2.05,"y":7.30,"c":1},{"x":-1.38,"y":7.30,"c":75},{"x":-0.72,"y":7.30,"c":187},{"x":-0.05,"y":7.30,"c":261},{"x":0.62,"y":7.30,"c":187},{"x":1.29,"y":7.30,"c":112},{"x":1.96,"y":7.30,"c":1},{"x":2.62,"y":7.30,"c":1},{"x":3.29,"y":7.30,"c":1},{"x":3.96,"y":7.30,"c":1},{"x":4.63,"y":7.30,"c":1},
{"x":-6.39,"y":6.74,"c":1},{"x":-5.72,"y":6.74,"c":1},{"x":-5.06,"y":6.74,"c":1},{"x":-4.39,"y":6.74,"c":1},{"x":-3.72,"y":6.74,"c":1},{"x":-3.05,"y":6.74,"c":1},{"x":-2.39,"y":6.74,"c":1},{"x":-1.72,"y":6.74,"c":75},{"x":-1.05,"y":6.74,"c":261},{"x":-0.38,"y":6.74,"c":446},{"x":0.29,"y":6.74,"c":446},{"x":0.95,"y":6.74,"c":298},{"x":1.62,"y":6.74,"c":112},{"x":2.29,"y":6.74,"c":1},{"x":2.96,"y":6.74,"c":1},{"x":3.62,"y":6.74,"c":1},{"x":4.29,"y":6.74,"c":1},{"x":4.96,"y":6.74,"c":1},{"x":5.63,"y":6.74,"c":1},{"x":6.30,"y":6.74,"c":1},
{"x":-7.39,"y":6.18,"c":1},{"x":-6.73,"y":6.18,"c":1},{"x":-6.06,"y":6.18,"c":1},{"x":-5.39,"y":6.18,"c":1},{"x":-4.72,"y":6.18,"c":38},{"x":-4.05,"y":6.18,"c":38},{"x":-3.39,"y":6.18,"c":38},{"x":-2.72,"y":6.18,"c":1},{"x":-2.05,"y":6.18,"c":75},{"x":-1.38,"y":6.18,"c":224},{"x":-0.72,"y":6.18,"c":446},{"x":-0.05,"y":6.18,"c":595},{"x":0.62,"y":6.18,"c":484},{"x":1.29,"y":6.18,"c":224},{"x":1.96,"y":6.18,"c":75},{"x":2.62,"y":6.18,"c":38},{"x":3.29,"y":6.18,"c":38},{"x":3.96,"y":6.18,"c":38},{"x":4.63,"y":6.18,"c":38},{"x":5.29,"y":6.18,"c":1},{"x":5.96,"y":6.18,"c":1},{"x":6.63,"y":6.18,"c":1},{"x":7.97,"y":6.18,"c":1},
{"x":-7.06,"y":5.62,"c":1},{"x":-6.39,"y":5.62,"c":1},{"x":-5.72,"y":5.62,"c":38},{"x":-5.06,"y":5.62,"c":112},{"x":-4.39,"y":5.62,"c":150},{"x":-3.72,"y":5.62,"c":112},{"x":-3.05,"y":5.62,"c":112},{"x":-2.39,"y":5.62,"c":75},{"x":-1.72,"y":5.62,"c":112},{"x":-1.05,"y":5.62,"c":372},{"x":-0.38,"y":5.62,"c":521},{"x":0.29,"y":5.62,"c":521},{"x":0.95,"y":5.62,"c":372},{"x":1.62,"y":5.62,"c":112},{"x":2.29,"y":5.62,"c":75},{"x":2.96,"y":5.62,"c":75},{"x":3.62,"y":5.62,"c":150},{"x":4.29,"y":5.62,"c":150},{"x":4.96,"y":5.62,"c":75},{"x":5.63,"y":5.62,"c":38},{"x":6.30,"y":5.62,"c":1},
{"x":-7.39,"y":5.06,"c":1},{"x":-6.73,"y":5.06,"c":1},{"x":-6.06,"y":5.06,"c":38},{"x":-5.39,"y":5.06,"c":112},{"x":-4.72,"y":5.06,"c":224},{"x":-4.05,"y":5.06,"c":372},{"x":-3.39,"y":5.06,"c":261},{"x":-2.72,"y":5.06,"c":150},{"x":-2.05,"y":5.06,"c":75},{"x":-1.38,"y":5.06,"c":150},{"x":-0.72,"y":5.06,"c":298},{"x":-0.05,"y":5.06,"c":409},{"x":0.62,"y":5.06,"c":298},{"x":1.29,"y":5.06,"c":187},{"x":1.96,"y":5.06,"c":75},{"x":2.62,"y":5.06,"c":112},{"x":3.29,"y":5.06,"c":261},{"x":3.96,"y":5.06,"c":372},{"x":4.63,"y":5.06,"c":261},{"x":5.29,"y":5.06,"c":150},{"x":5.96,"y":5.06,"c":38},{"x":6.63,"y":5.06,"c":1},
{"x":-8.39,"y":4.50,"c":1},{"x":-7.06,"y":4.50,"c":1},{"x":-6.39,"y":4.50,"c":38},{"x":-5.72,"y":4.50,"c":112},{"x":-5.06,"y":4.50,"c":261},{"x":-4.39,"y":4.50,"c":521},{"x":-3.72,"y":4.50,"c":521},{"x":-3.05,"y":4.50,"c":372},{"x":-2.39,"y":4.50,"c":150},{"x":-1.72,"y":4.50,"c":75},{"x":-1.05,"y":4.50,"c":112},{"x":-0.38,"y":4.50,"c":187},{"x":0.29,"y":4.50,"c":150},{"x":0.95,"y":4.50,"c":112},{"x":1.62,"y":4.50,"c":75},{"x":2.29,"y":4.50,"c":112},{"x":2.96,"y":4.50,"c":261},{"x":3.62,"y":4.50,"c":558},{"x":4.29,"y":4.50,"c":521},{"x":4.96,"y":4.50,"c":372},{"x":5.63,"y":4.50,"c":112},{"x":6.30,"y":4.50,"c":1},{"x":6.96,"y":4.50,"c":1},{"x":7.63,"y":4.50,"c":1},
{"x":-7.39,"y":3.94,"c":1},{"x":-6.73,"y":3.94,"c":1},{"x":-6.06,"y":3.94,"c":75},{"x":-5.39,"y":3.94,"c":187},{"x":-4.72,"y":3.94,"c":484},{"x":-4.05,"y":3.94,"c":595},{"x":-3.39,"y":3.94,"c":484},{"x":-2.72,"y":3.94,"c":261},{"x":-2.05,"y":3.94,"c":75},{"x":-1.38,"y":3.94,"c":38},{"x":-0.72,"y":3.94,"c":38},{"x":-0.05,"y":3.94,"c":38},{"x":0.62,"y":3.94,"c":38},{"x":1.29,"y":3.94,"c":38},{"x":1.96,"y":3.94,"c":38},{"x":2.62,"y":3.94,"c":224},{"x":3.29,"y":3.94,"c":446},{"x":3.96,"y":3.94,"c":595},{"x":4.63,"y":3.94,"c":484},{"x":5.29,"y":3.94,"c":224},{"x":5.96,"y":3.94,"c":75},{"x":6.63,"y":3.94,"c":1},{"x":7.30,"y":3.94,"c":1},{"x":7.97,"y":3.94,"c":1},
{"x":-7.73,"y":3.38,"c":1},{"x":-7.06,"y":3.38,"c":1},{"x":-6.39,"y":3.38,"c":38},{"x":-5.72,"y":3.38,"c":112},{"x":-5.06,"y":3.38,"c":261},{"x":-4.39,"y":3.38,"c":409},{"x":-3.72,"y":3.38,"c":409},{"x":-3.05,"y":3.38,"c":298},{"x":-2.39,"y":3.38,"c":112},{"x":-1.72,"y":3.38,"c":1},{"x":-1.05,"y":3.38,"c":1},{"x":-0.38,"y":3.38,"c":1},{"x":0.29,"y":3.38,"c":1},{"x":0.95,"y":3.38,"c":1},{"x":1.62,"y":3.38,"c":1},{"x":2.29,"y":3.38,"c":112},{"x":2.96,"y":3.38,"c":261},{"x":3.62,"y":3.38,"c":409},{"x":4.29,"y":3.38,"c":409},{"x":4.96,"y":3.38,"c":261},{"x":5.63,"y":3.38,"c":112},{"x":6.30,"y":3.38,"c":38},{"x":6.96,"y":3.38,"c":1},
{"x":-8.06,"y":2.82,"c":1},{"x":-7.39,"y":2.82,"c":1},{"x":-6.73,"y":2.82,"c":1},{"x":-6.06,"y":2.82,"c":38},{"x":-5.39,"y":2.82,"c":112},{"x":-4.72,"y":2.82,"c":187},{"x":-4.05,"y":2.82,"c":261},{"x":-3.39,"y":2.82,"c":261},{"x":-2.72,"y":2.82,"c":112},{"x":-2.05,"y":2.82,"c":38},{"x":-1.38,"y":2.82,"c":1},{"x":-0.72,"y":2.82,"c":1},{"x":-0.05,"y":2.82,"c":1},{"x":0.62,"y":2.82,"c":1},{"x":1.29,"y":2.82,"c":1},{"x":1.96,"y":2.82,"c":38},{"x":2.62,"y":2.82,"c":112},{"x":3.29,"y":2.82,"c":224},{"x":3.96,"y":2.82,"c":298},{"x":4.63,"y":2.82,"c":261},{"x":5.29,"y":2.82,"c":112},{"x":5.96,"y":2.82,"c":38},{"x":6.63,"y":2.82,"c":1},{"x":7.30,"y":2.82,"c":1},{"x":7.97,"y":2.82,"c":1},
{"x":-9.06,"y":2.26,"c":1},{"x":-8.39,"y":2.26,"c":1},{"x":-7.73,"y":2.26,"c":1},{"x":-7.06,"y":2.26,"c":1},{"x":-6.39,"y":2.26,"c":38},{"x":-5.72,"y":2.26,"c":75},{"x":-5.06,"y":2.26,"c":75},{"x":-4.39,"y":2.26,"c":112},{"x":-3.72,"y":2.26,"c":112},{"x":-3.05,"y":2.26,"c":75},{"x":-2.39,"y":2.26,"c":1},{"x":-1.72,"y":2.26,"c":1},{"x":-1.05,"y":2.26,"c":1},{"x":0.29,"y":2.26,"c":1},{"x":0.95,"y":2.26,"c":1},{"x":1.62,"y":2.26,"c":1},{"x":2.29,"y":2.26,"c":1},{"x":2.96,"y":2.26,"c":38},{"x":3.62,"y":2.26,"c":112},{"x":4.29,"y":2.26,"c":112},{"x":4.96,"y":2.26,"c":112},{"x":5.63,"y":2.26,"c":75},{"x":6.30,"y":2.26,"c":38},{"x":6.96,"y":2.26,"c":1},{"x":7.63,"y":2.26,"c":1},{"x":8.30,"y":2.26,"c":1},{"x":8.97,"y":2.26,"c":1},
{"x":-9.40,"y":1.70,"c":1},{"x":-8.73,"y":1.70,"c":1},{"x":-8.06,"y":1.70,"c":1},{"x":-7.39,"y":1.70,"c":38},{"x":-6.73,"y":1.70,"c":112},{"x":-6.06,"y":1.70,"c":150},{"x":-5.39,"y":1.70,"c":112},{"x":-4.72,"y":1.70,"c":75},{"x":-4.05,"y":1.70,"c":38},{"x":-3.39,"y":1.70,"c":1},{"x":-2.72,"y":1.70,"c":1},{"x":-2.05,"y":1.70,"c":1},{"x":-0.72,"y":1.70,"c":1},{"x":1.29,"y":1.70,"c":1},{"x":1.96,"y":1.70,"c":1},{"x":2.62,"y":1.70,"c":1},{"x":3.29,"y":1.70,"c":1},{"x":3.96,"y":1.70,"c":38},{"x":4.63,"y":1.70,"c":75},{"x":5.29,"y":1.70,"c":112},{"x":5.96,"y":1.70,"c":112},{"x":6.63,"y":1.70,"c":112},{"x":7.30,"y":1.70,"c":38},{"x":7.97,"y":1.70,"c":1},{"x":8.63,"y":1.70,"c":1},
{"x":-9.73,"y":1.14,"c":1},{"x":-9.06,"y":1.14,"c":1},{"x":-8.39,"y":1.14,"c":1},{"x":-7.73,"y":1.14,"c":38},{"x":-7.06,"y":1.14,"c":150},{"x":-6.39,"y":1.14,"c":261},{"x":-5.72,"y":1.14,"c":298},{"x":-5.06,"y":1.14,"c":261},{"x":-4.39,"y":1.14,"c":75},{"x":-3.72,"y":1.14,"c":1},{"x":-3.05,"y":1.14,"c":1},{"x":-2.39,"y":1.14,"c":1},{"x":-1.72,"y":1.14,"c":1},{"x":1.62,"y":1.14,"c":1},{"x":2.29,"y":1.14,"c":1},{"x":2.96,"y":1.14,"c":1},{"x":3.62,"y":1.14,"c":1},{"x":4.29,"y":1.14,"c":75},{"x":4.96,"y":1.14,"c":187},{"x":5.63,"y":1.14,"c":261},{"x":6.30,"y":1.14,"c":261},{"x":6.96,"y":1.14,"c":150},{"x":7.63,"y":1.14,"c":38},{"x":8.30,"y":1.14,"c":1},{"x":8.97,"y":1.14,"c":1},{"x":9.63,"y":1.14,"c":1},
{"x":-10.06,"y":0.58,"c":1},{"x":-9.40,"y":0.58,"c":1},{"x":-8.73,"y":0.58,"c":1},{"x":-8.06,"y":0.58,"c":38},{"x":-7.39,"y":0.58,"c":187},{"x":-6.73,"y":0.58,"c":446},{"x":-6.06,"y":0.58,"c":521},{"x":-5.39,"y":0.58,"c":446},{"x":-4.72,"y":0.58,"c":187},{"x":-4.05,"y":0.58,"c":38},{"x":-3.39,"y":0.58,"c":1},{"x":-2.72,"y":0.58,"c":1},{"x":1.96,"y":0.58,"c":1},{"x":2.62,"y":0.58,"c":1},{"x":3.29,"y":0.58,"c":1},{"x":3.96,"y":0.58,"c":38},{"x":4.63,"y":0.58,"c":187},{"x":5.29,"y":0.58,"c":409},{"x":5.96,"y":0.58,"c":521},{"x":6.63,"y":0.58,"c":484},{"x":7.30,"y":0.58,"c":224},{"x":7.97,"y":0.58,"c":75},{"x":8.63,"y":0.58,"c":1},{"x":9.30,"y":0.58,"c":1},
{"x":-9.73,"y":0.02,"c":1},{"x":-9.06,"y":0.02,"c":1},{"x":-8.39,"y":0.02,"c":38},{"x":-7.73,"y":0.02,"c":112},{"x":-7.06,"y":0.02,"c":372},{"x":-6.39,"y":0.02,"c":595},{"x":-5.72,"y":0.02,"c":595},{"x":-5.06,"y":0.02,"c":409},{"x":-4.39,"y":0.02,"c":112},{"x":-3.72,"y":0.02,"c":38},{"x":-3.05,"y":0.02,"c":1},{"x":-2.39,"y":0.02,"c":1},{"x":2.29,"y":0.02,"c":1},{"x":2.96,"y":0.02,"c":1},{"x":3.62,"y":0.02,"c":1},{"x":4.29,"y":0.02,"c":150},{"x":4.96,"y":0.02,"c":372},{"x":5.63,"y":0.02,"c":558},{"x":6.30,"y":0.02,"c":595},{"x":6.96,"y":0.02,"c":372},{"x":7.63,"y":0.02,"c":112},{"x":8.30,"y":0.02,"c":38},{"x":8.97,"y":0.02,"c":1},{"x":9.63,"y":0.02,"c":1},{"x":10.30,"y":0.02,"c":1},
{"x":-9.40,"y":-0.54,"c":1},{"x":-8.73,"y":-0.54,"c":1},{"x":-8.06,"y":-0.54,"c":38},{"x":-7.39,"y":-0.54,"c":187},{"x":-6.73,"y":-0.54,"c":372},{"x":-6.06,"y":-0.54,"c":484},{"x":-5.39,"y":-0.54,"c":446},{"x":-4.72,"y":-0.54,"c":224},{"x":-4.05,"y":-0.54,"c":75},{"x":-3.39,"y":-0.54,"c":1},{"x":-2.72,"y":-0.54,"c":1},{"x":-2.05,"y":-0.54,"c":1},{"x":2.62,"y":-0.54,"c":1},{"x":3.29,"y":-0.54,"c":1},{"x":3.96,"y":-0.54,"c":38},{"x":4.63,"y":-0.54,"c":187},{"x":5.29,"y":-0.54,"c":409},{"x":5.96,"y":-0.54,"c":521},{"x":6.63,"y":-0.54,"c":446},{"x":7.30,"y":-0.54,"c":224},{"x":7.97,"y":-0.54,"c":75},{"x":8.63,"y":-0.54,"c":1},{"x":9.30,"y":-0.54,"c":1},
{"x":-9.06,"y":-1.10,"c":1},{"x":-8.39,"y":-1.10,"c":1},{"x":-7.73,"y":-1.10,"c":38},{"x":-7.06,"y":-1.10,"c":150},{"x":-6.39,"y":-1.10,"c":261},{"x":-5.72,"y":-1.10,"c":261},{"x":-5.06,"y":-1.10,"c":187},{"x":-4.39,"y":-1.10,"c":75},{"x":-3.72,"y":-1.10,"c":1},{"x":-3.05,"y":-1.10,"c":1},{"x":-2.39,"y":-1.10,"c":1},{"x":-1.72,"y":-1.10,"c":1},{"x":-1.05,"y":-1.10,"c":1},{"x":1.62,"y":-1.10,"c":1},{"x":2.29,"y":-1.10,"c":1},{"x":2.96,"y":-1.10,"c":1},{"x":3.62,"y":-1.10,"c":1},{"x":4.29,"y":-1.10,"c":75},{"x":4.96,"y":-1.10,"c":150},{"x":5.63,"y":-1.10,"c":261},{"x":6.30,"y":-1.10,"c":261},{"x":6.96,"y":-1.10,"c":187},{"x":7.63,"y":-1.10,"c":75},{"x":8.30,"y":-1.10,"c":1},{"x":8.97,"y":-1.10,"c":1},
{"x":-9.40,"y":-1.66,"c":1},{"x":-8.73,"y":-1.66,"c":1},{"x":-8.06,"y":-1.66,"c":1},{"x":-7.39,"y":-1.66,"c":38},{"x":-6.73,"y":-1.66,"c":75},{"x":-6.06,"y":-1.66,"c":112},{"x":-5.39,"y":-1.66,"c":112},{"x":-4.72,"y":-1.66,"c":75},{"x":-4.05,"y":-1.66,"c":38},{"x":-3.39,"y":-1.66,"c":1},{"x":-2.72,"y":-1.66,"c":1},{"x":-2.05,"y":-1.66,"c":1},{"x":-1.38,"y":-1.66,"c":1},{"x":0.62,"y":-1.66,"c":1},{"x":1.96,"y":-1.66,"c":1},{"x":2.62,"y":-1.66,"c":1},{"x":3.29,"y":-1.66,"c":38},{"x":3.96,"y":-1.66,"c":38},{"x":4.63,"y":-1.66,"c":75},{"x":5.29,"y":-1.66,"c":112},{"x":5.96,"y":-1.66,"c":150},{"x":6.63,"y":-1.66,"c":75},{"x":7.30,"y":-1.66,"c":38},{"x":7.97,"y":-1.66,"c":1},{"x":8.63,"y":-1.66,"c":1},{"x":9.30,"y":-1.66,"c":1},
{"x":-9.06,"y":-2.22,"c":1},{"x":-8.39,"y":-2.22,"c":1},{"x":-7.73,"y":-2.22,"c":1},{"x":-7.06,"y":-2.22,"c":1},{"x":-6.39,"y":-2.22,"c":38},{"x":-5.72,"y":-2.22,"c":75},{"x":-5.06,"y":-2.22,"c":75},{"x":-4.39,"y":-2.22,"c":150},{"x":-3.72,"y":-2.22,"c":112},{"x":-3.05,"y":-2.22,"c":38},{"x":-2.39,"y":-2.22,"c":1},{"x":-1.72,"y":-2.22,"c":1},{"x":-1.05,"y":-2.22,"c":1},{"x":-0.38,"y":-2.22,"c":1},{"x":0.29,"y":-2.22,"c":1},{"x":1.62,"y":-2.22,"c":1},{"x":2.29,"y":-2.22,"c":1},{"x":2.96,"y":-2.22,"c":38},{"x":3.62,"y":-2.22,"c":112},{"x":4.29,"y":-2.22,"c":112},{"x":4.96,"y":-2.22,"c":112},{"x":5.63,"y":-2.22,"c":38},{"x":6.30,"y":-2.22,"c":38},{"x":6.96,"y":-2.22,"c":1},{"x":7.63,"y":-2.22,"c":1},{"x":8.30,"y":-2.22,"c":1},{"x":8.97,"y":-2.22,"c":1},
{"x":-8.06,"y":-2.78,"c":1},{"x":-7.39,"y":-2.78,"c":1},{"x":-6.73,"y":-2.78,"c":1},{"x":-6.06,"y":-2.78,"c":38},{"x":-5.39,"y":-2.78,"c":112},{"x":-4.72,"y":-2.78,"c":224},{"x":-4.05,"y":-2.78,"c":298},{"x":-3.39,"y":-2.78,"c":224},{"x":-2.72,"y":-2.78,"c":112},{"x":-2.05,"y":-2.78,"c":38},{"x":-1.38,"y":-2.78,"c":1},{"x":-0.72,"y":-2.78,"c":1},{"x":-0.05,"y":-2.78,"c":1},{"x":0.62,"y":-2.78,"c":1},{"x":1.29,"y":-2.78,"c":1},{"x":1.96,"y":-2.78,"c":38},{"x":2.62,"y":-2.78,"c":112},{"x":3.29,"y":-2.78,"c":187},{"x":3.96,"y":-2.78,"c":298},{"x":4.63,"y":-2.78,"c":224},{"x":5.29,"y":-2.78,"c":150},{"x":5.96,"y":-2.78,"c":38},{"x":6.63,"y":-2.78,"c":1},{"x":7.30,"y":-2.78,"c":1},{"x":7.97,"y":-2.78,"c":1},
{"x":-7.73,"y":-3.34,"c":1},{"x":-7.06,"y":-3.34,"c":1},{"x":-6.39,"y":-3.34,"c":1},{"x":-5.72,"y":-3.34,"c":112},{"x":-5.06,"y":-3.34,"c":261},{"x":-4.39,"y":-3.34,"c":446},{"x":-3.72,"y":-3.34,"c":409},{"x":-3.05,"y":-3.34,"c":261},{"x":-2.39,"y":-3.34,"c":112},{"x":-1.72,"y":-3.34,"c":38},{"x":-1.05,"y":-3.34,"c":1},{"x":-0.38,"y":-3.34,"c":1},{"x":0.29,"y":-3.34,"c":1},{"x":0.95,"y":-3.34,"c":1},{"x":1.62,"y":-3.34,"c":38},{"x":2.29,"y":-3.34,"c":112},{"x":2.96,"y":-3.34,"c":298},{"x":3.62,"y":-3.34,"c":409},{"x":4.29,"y":-3.34,"c":484},{"x":4.96,"y":-3.34,"c":298},{"x":5.63,"y":-3.34,"c":112},{"x":6.30,"y":-3.34,"c":1},{"x":6.96,"y":-3.34,"c":1},{"x":8.30,"y":-3.34,"c":1},
{"x":-7.39,"y":-3.90,"c":1},{"x":-6.73,"y":-3.90,"c":1},{"x":-6.06,"y":-3.90,"c":38},{"x":-5.39,"y":-3.90,"c":187},{"x":-4.72,"y":-3.90,"c":484},{"x":-4.05,"y":-3.90,"c":595},{"x":-3.39,"y":-3.90,"c":521},{"x":-2.72,"y":-3.90,"c":224},{"x":-2.05,"y":-3.90,"c":112},{"x":-1.38,"y":-3.90,"c":38},{"x":-0.72,"y":-3.90,"c":38},{"x":-0.05,"y":-3.90,"c":75},{"x":0.62,"y":-3.90,"c":38},{"x":1.29,"y":-3.90,"c":38},{"x":1.96,"y":-3.90,"c":75},{"x":2.62,"y":-3.90,"c":224},{"x":3.29,"y":-3.90,"c":484},{"x":3.96,"y":-3.90,"c":595},{"x":4.63,"y":-3.90,"c":409},{"x":5.29,"y":-3.90,"c":261},{"x":5.96,"y":-3.90,"c":75},{"x":6.63,"y":-3.90,"c":1},{"x":7.30,"y":-3.90,"c":1},{"x":7.97,"y":-3.90,"c":1},
{"x":-8.39,"y":-4.46,"c":1},{"x":-7.06,"y":-4.46,"c":1},{"x":-6.39,"y":-4.46,"c":1},{"x":-5.72,"y":-4.46,"c":112},{"x":-5.06,"y":-4.46,"c":298},{"x":-4.39,"y":-4.46,"c":521},{"x":-3.72,"y":-4.46,"c":484},{"x":-3.05,"y":-4.46,"c":261},{"x":-2.39,"y":-4.46,"c":150},{"x":-1.72,"y":-4.46,"c":75},{"x":-1.05,"y":-4.46,"c":75},{"x":-0.38,"y":-4.46,"c":187},{"x":0.29,"y":-4.46,"c":187},{"x":0.95,"y":-4.46,"c":112},{"x":1.62,"y":-4.46,"c":75},{"x":2.29,"y":-4.46,"c":112},{"x":2.96,"y":-4.46,"c":261},{"x":3.62,"y":-4.46,"c":521},{"x":4.29,"y":-4.46,"c":484},{"x":4.96,"y":-4.46,"c":298},{"x":5.63,"y":-4.46,"c":112},{"x":6.30,"y":-4.46,"c":1},{"x":6.96,"y":-4.46,"c":1},{"x":7.63,"y":-4.46,"c":1},
{"x":-7.39,"y":-5.02,"c":1},{"x":-6.73,"y":-5.02,"c":1},{"x":-6.06,"y":-5.02,"c":38},{"x":-5.39,"y":-5.02,"c":112},{"x":-4.72,"y":-5.02,"c":261},{"x":-4.05,"y":-5.02,"c":298},{"x":-3.39,"y":-5.02,"c":261},{"x":-2.72,"y":-5.02,"c":112},{"x":-2.05,"y":-5.02,"c":75},{"x":-1.38,"y":-5.02,"c":150},{"x":-0.72,"y":-5.02,"c":335},{"x":-0.05,"y":-5.02,"c":409},{"x":0.62,"y":-5.02,"c":335},{"x":1.29,"y":-5.02,"c":187},{"x":1.96,"y":-5.02,"c":75},{"x":2.62,"y":-5.02,"c":150},{"x":3.29,"y":-5.02,"c":224},{"x":3.96,"y":-5.02,"c":372},{"x":4.63,"y":-5.02,"c":224},{"x":5.29,"y":-5.02,"c":112},{"x":5.96,"y":-5.02,"c":38},{"x":6.63,"y":-5.02,"c":1},{"x":7.30,"y":-5.02,"c":1},
{"x":-6.39,"y":-5.58,"c":1},{"x":-5.72,"y":-5.58,"c":38},{"x":-5.06,"y":-5.58,"c":75},{"x":-4.39,"y":-5.58,"c":112},{"x":-3.72,"y":-5.58,"c":112},{"x":-3.05,"y":-5.58,"c":112},{"x":-2.39,"y":-5.58,"c":75},{"x":-1.72,"y":-5.58,"c":112},{"x":-1.05,"y":-5.58,"c":335},{"x":-0.38,"y":-5.58,"c":521},{"x":0.29,"y":-5.58,"c":558},{"x":0.95,"y":-5.58,"c":372},{"x":1.62,"y":-5.58,"c":187},{"x":2.29,"y":-5.58,"c":38},{"x":2.96,"y":-5.58,"c":75},{"x":3.62,"y":-5.58,"c":112},{"x":4.29,"y":-5.58,"c":150},{"x":4.96,"y":-5.58,"c":75},{"x":5.63,"y":-5.58,"c":1},{"x":6.30,"y":-5.58,"c":1},{"x":6.96,"y":-5.58,"c":1},
{"x":-6.06,"y":-6.14,"c":1},{"x":-5.39,"y":-6.14,"c":1},{"x":-4.72,"y":-6.14,"c":38},{"x":-4.05,"y":-6.14,"c":38},{"x":-3.39,"y":-6.14,"c":38},{"x":-2.72,"y":-6.14,"c":38},{"x":-2.05,"y":-6.14,"c":75},{"x":-1.38,"y":-6.14,"c":224},{"x":-0.72,"y":-6.14,"c":484},{"x":-0.05,"y":-6.14,"c":595},{"x":0.62,"y":-6.14,"c":484},{"x":1.29,"y":-6.14,"c":261},{"x":1.96,"y":-6.14,"c":75},{"x":2.62,"y":-6.14,"c":38},{"x":3.29,"y":-6.14,"c":1},{"x":3.96,"y":-6.14,"c":38},{"x":4.63,"y":-6.14,"c":38},{"x":5.29,"y":-6.14,"c":1},{"x":5.96,"y":-6.14,"c":1},
{"x":-5.72,"y":-6.70,"c":1},{"x":-5.06,"y":-6.70,"c":1},{"x":-4.39,"y":-6.70,"c":1},{"x":-3.72,"y":-6.70,"c":1},{"x":-3.05,"y":-6.70,"c":1},{"x":-2.39,"y":-6.70,"c":38},{"x":-1.72,"y":-6.70,"c":75},{"x":-1.05,"y":-6.70,"c":224},{"x":-0.38,"y":-6.70,"c":409},{"x":0.29,"y":-6.70,"c":446},{"x":0.95,"y":-6.70,"c":224},{"x":1.62,"y":-6.70,"c":150},{"x":2.29,"y":-6.70,"c":38},{"x":2.96,"y":-6.70,"c":1},{"x":3.62,"y":-6.70,"c":1},{"x":4.29,"y":-6.70,"c":1},{"x":4.96,"y":-6.70,"c":1},{"x":5.63,"y":-6.70,"c":1},{"x":6.30,"y":-6.70,"c":1},
{"x":-4.72,"y":-7.26,"c":1},{"x":-4.05,"y":-7.26,"c":1},{"x":-3.39,"y":-7.26,"c":1},{"x":-2.72,"y":-7.26,"c":1},{"x":-2.05,"y":-7.26,"c":1},{"x":-1.38,"y":-7.26,"c":75},{"x":-0.72,"y":-7.26,"c":150},{"x":-0.05,"y":-7.26,"c":224},{"x":0.62,"y":-7.26,"c":187},{"x":1.29,"y":-7.26,"c":112},{"x":1.96,"y":-7.26,"c":1},{"x":2.62,"y":-7.26,"c":1},{"x":3.29,"y":-7.26,"c":1},{"x":3.96,"y":-7.26,"c":1},{"x":4.63,"y":-7.26,"c":1},{"x":5.29,"y":-7.26,"c":1},{"x":5.96,"y":-7.26,"c":1},
{"x":-4.39,"y":-7.82,"c":1},{"x":-3.72,"y":-7.82,"c":1},{"x":-3.05,"y":-7.82,"c":1},{"x":-2.39,"y":-7.82,"c":1},{"x":-1.72,"y":-7.82,"c":1},{"x":-1.05,"y":-7.82,"c":38},{"x":-0.38,"y":-7.82,"c":75},{"x":0.29,"y":-7.82,"c":75},{"x":0.95,"y":-7.82,"c":38},{"x":1.62,"y":-7.82,"c":1},{"x":2.29,"y":-7.82,"c":1},{"x":3.62,"y":-7.82,"c":1},{"x":4.96,"y":-7.82,"c":1},
{"x":-2.72,"y":-8.38,"c":1},{"x":-2.05,"y":-8.38,"c":1},{"x":-1.38,"y":-8.38,"c":1},{"x":-0.72,"y":-8.38,"c":1},{"x":-0.05,"y":-8.38,"c":1},{"x":0.62,"y":-8.38,"c":1},{"x":1.29,"y":-8.38,"c":1},{"x":1.96,"y":-8.38,"c":1},{"x":2.62,"y":-8.38,"c":1},
{"x":-1.05,"y":-8.94,"c":1},{"x":-0.38,"y":-8.94,"c":1},{"x":0.29,"y":-8.94,"c":1},{"x":0.95,"y":-8.94,"c":1},{"x":1.62,"y":-8.94,"c":1},{"x":2.96,"y":-8.94,"c":1},
{"x":-0.72,"y":-9.50,"c":1},{"x":-0.05,"y":-9.50,"c":1},{"x":1.29,"y":-9.50,"c":1}
],
"ka":[{"v":257.5,"c":249},{"v":241,"c":233},{"v":224.5,"c":216},{"v":208,"c":200},{"v":191.5,"c":183},{"v":175,"c":167},{"v":158.5,"c":150},{"v":142,"c":134},{"v":125.5,"c":117},{"v":109,"c":100},{"v":92,"c":84},{"v":75.5,"c":67},{"v":59,"c":51},{"v":42.5,"c":34},{"v":26,"c":18},{"v":9.5,"c":1}],
"kb":[{"v":90,"c":87},{"v":84.5,"c":82},{"v":79,"c":76},{"v":73,"c":70},{"v":67,"c":64},{"v":61,"c":58},{"v":55.5,"c":53},{"v":50,"c":47},{"v":44,"c":41},{"v":38.5,"c":36},{"v":33,"c":30},{"v":27,"c":24},{"v":21,"c":18},{"v":15,"c":12},{"v":9.5,"c":7},{"v":4,"c":1}],
"kc":[{"v":576.5,"c":558},{"v":539.5,"c":521},{"v":502.5,"c":484},{"v":465,"c":446},{"v":427.5,"c":409},{"v":390.5,"c":372},{"v":353.5,"c":335},{"v":316.5,"c":298},{"v":279.5,"c":261},{"v":242.5,"c":224},{"v":205.5,"c":187},{"v":168.5,"c":150},{"v":131,"c":112},{"v":93.5,"c":75},{"v":56.5,"c":38},{"v":19.5,"c":1}],
"la":[{"v":266},{"v":249},{"v":233},{"v":216},{"v":200},{"v":183},{"v":167},{"v":150},{"v":134},{"v":117},{"v":100},{"v":84},{"v":67},{"v":51},{"v":34},{"v":18},{"v":1}],
"lb":[{"v":93},{"v":87},{"v":82},{"v":76},{"v":70},{"v":64},{"v":58},{"v":53},{"v":47},{"v":41},{"v":36},{"v":30},{"v":24},{"v":18},{"v":12},{"v":7},{"v":1}],
"lc":[{"v":595},{"v":558},{"v":521},{"v":484},{"v":446},{"v":409},{"v":372},{"v":335},{"v":298},{"v":261},{"v":224},{"v":187},{"v":150},{"v":112},{"v":75},{"v":38},{"v":1}],
"s":[{"z":0}]
},
"bounds":"flush","spacing":1164,"resolve":{"scale":{"fill":"independent","stroke":"independent"}},
"vconcat":[
{"bounds":"flush","spacing":0,"hconcat":[
{"width":9,"height":757.6,"view":{"stroke":null},"data":{"name":"s"},"mark":{"type":"point","opacity":0},"encoding":{}},
{"width":759.2,"height":757.6,"title":{"text":"(a)","orient":"bottom","anchor":"middle","dx":129,"offset":64,"fontSize":46,"fontWeight":"bold"},"data":{"name":"a"},
"mark":{"type":"point","filled":true,"opacity":1,"strokeWidth":0.8,"shape":"M0,-1L0.866,-0.5L0.866,0.5L0,1L-0.866,0.5L-0.866,-0.5Z","size":748},
"encoding":{"x":{"field":"x","type":"quantitative","scale":{"domain":[-3.997,3.83],"nice":false,"zero":false},"axis":{"values":[-2,0,2],"title":"𝜃[1]","titleX":378,"titleY":152,"labelExpr":"replace(datum.label,'−','-')"}},
"y":{"field":"y","type":"quantitative","scale":{"domain":[-4.06,4.14],"nice":false,"zero":false},"axis":{"values":[-4,-2,0,2,4],"title":"𝜃[2]","titleX":-148,"titleY":382,"labelExpr":"replace(datum.label,'−','-')"}},
"fill":{"field":"c","type":"ordinal","legend":null,"scale":{"domain":[1,18,34,51,67,84,100,117,134,150,167,183,200,216,233,249,266],"range":["#5E4FA2","#4273B3","#3F96B7","#5FBBA8","#88CFA4","#B2E0A2","#D7EF9B","#EFF9A7","#FFFFBF","#FEEB9E","#FED380","#FDB466","#F98E52","#F06744","#DD4A4C","#C0274A","#9E0142"]}},
"stroke":{"field":"c","type":"ordinal","legend":null,"scale":{"domain":[1,18,34,51,67,84,100,117,134,150,167,183,200,216,233,249,266],"range":["#5E4FA2","#4273B3","#3F96B7","#5FBBA8","#88CFA4","#B2E0A2","#D7EF9B","#EFF9A7","#FFFFBF","#FEEB9E","#FED380","#FDB466","#F98E52","#F06744","#DD4A4C","#C0274A","#9E0142"]}}}},
{"width":400,"height":757.6,"view":{"stroke":null},"title":{"text":"Counts","orient":"top","anchor":"middle","dx":60.5,"offset":-93,"fontSize":68,"fontWeight":"normal"},
"layer":[
{"data":{"name":"ka"},"transform":[{"calculate":"'key'","as":"col"}],"mark":{"type":"point","filled":true,"opacity":1,"stroke":"#111","strokeWidth":1.3,"shape":"M0,-1L0.872,-0.5L0.872,0.5L0,1L-0.872,0.5L-0.872,-0.5Z","size":1480},
"encoding":{"x":{"field":"col","type":"nominal","axis":null,"scale":{"type":"point","domain":["key","label"],"range":[205.5,315.5],"padding":0}},"y":{"field":"v","type":"quantitative","axis":null,"scale":{"domain":[-7.13,324.2],"nice":false,"zero":false}},
"fill":{"field":"c","type":"ordinal","legend":null,"scale":{"domain":[1,18,34,51,67,84,100,117,134,150,167,183,200,216,233,249,266],"range":["#5E4FA2","#4273B3","#3F96B7","#5FBBA8","#88CFA4","#B2E0A2","#D7EF9B","#EFF9A7","#FFFFBF","#FEEB9E","#FED380","#FDB466","#F98E52","#F06744","#DD4A4C","#C0274A","#9E0142"]}}}},
{"data":{"name":"la"},"transform":[{"calculate":"'label'","as":"col"}],"mark":{"type":"text","font":"Liberation Serif","fontSize":33,"color":"#111","baseline":"middle","align":"center"},
"encoding":{"x":{"field":"col","type":"nominal","axis":null,"scale":{"type":"point","domain":["key","label"],"range":[205.5,315.5],"padding":0}},"y":{"field":"v","type":"quantitative","axis":null,"scale":{"domain":[-7.13,324.2],"nice":false,"zero":false}},"text":{"field":"v","type":"quantitative","format":"d"}}}
]}
]},
{"bounds":"flush","spacing":0,"hconcat":[
{"width":9,"height":759.5,"view":{"stroke":null},"data":{"name":"s"},"mark":{"type":"point","opacity":0},"encoding":{}},
{"width":759.7,"height":759.5,"title":{"text":"(b)","orient":"bottom","anchor":"middle","dx":129,"offset":64,"fontSize":46,"fontWeight":"bold"},"data":{"name":"b"},
"mark":{"type":"point","filled":true,"opacity":1,"strokeWidth":0.8,"shape":"M0,-1L0.891,-0.5L0.891,0.5L0,1L-0.891,0.5L-0.891,-0.5Z","size":708},
"encoding":{"x":{"field":"x","type":"quantitative","scale":{"domain":[-3.79,4.106],"nice":false,"zero":false},"axis":{"values":[-2,0,2,4],"title":"𝜃[1]","titleX":378,"titleY":152,"labelExpr":"replace(datum.label,'−','-')"}},
"y":{"field":"y","type":"quantitative","scale":{"domain":[-3.818,4.21],"nice":false,"zero":false},"axis":{"values":[-2,0,2,4],"title":"𝜃[2]","titleX":-148,"titleY":400,"labelExpr":"replace(datum.label,'−','-')"}},
"fill":{"field":"c","type":"ordinal","legend":null,"scale":{"domain":[1,7,12,18,24,30,36,41,47,53,58,64,70,76,82,87,93],"range":["#5E4FA2","#4273B3","#3F96B7","#5FBBA8","#88CFA4","#B2E0A2","#D7EF9B","#EFF9A7","#FFFFBF","#FEEB9E","#FED380","#FDB466","#F98E52","#F06744","#DD4A4C","#C0274A","#9E0142"]}},
"stroke":{"field":"c","type":"ordinal","legend":null,"scale":{"domain":[1,7,12,18,24,30,36,41,47,53,58,64,70,76,82,87,93],"range":["#5E4FA2","#4273B3","#3F96B7","#5FBBA8","#88CFA4","#B2E0A2","#D7EF9B","#EFF9A7","#FFFFBF","#FEEB9E","#FED380","#FDB466","#F98E52","#F06744","#DD4A4C","#C0274A","#9E0142"]}}}},
{"width":400,"height":759.5,"view":{"stroke":null},"title":{"text":"Counts","orient":"top","anchor":"middle","dx":61,"offset":-94,"fontSize":68,"fontWeight":"normal"},
"layer":[
{"data":{"name":"kb"},"transform":[{"calculate":"'key'","as":"col"}],"mark":{"type":"point","filled":true,"opacity":1,"stroke":"#111","strokeWidth":1.3,"shape":"M0,-1L0.872,-0.5L0.872,0.5L0,1L-0.872,0.5L-0.872,-0.5Z","size":1480},
"encoding":{"x":{"field":"col","type":"nominal","axis":null,"scale":{"type":"point","domain":["key","label"],"range":[206,316],"padding":0}},"y":{"field":"v","type":"quantitative","axis":null,"scale":{"domain":[-1.8,113.3],"nice":false,"zero":false}},
"fill":{"field":"c","type":"ordinal","legend":null,"scale":{"domain":[1,7,12,18,24,30,36,41,47,53,58,64,70,76,82,87,93],"range":["#5E4FA2","#4273B3","#3F96B7","#5FBBA8","#88CFA4","#B2E0A2","#D7EF9B","#EFF9A7","#FFFFBF","#FEEB9E","#FED380","#FDB466","#F98E52","#F06744","#DD4A4C","#C0274A","#9E0142"]}}}},
{"data":{"name":"lb"},"transform":[{"calculate":"'label'","as":"col"}],"mark":{"type":"text","font":"Liberation Serif","fontSize":33,"color":"#111","baseline":"middle","align":"center"},
"encoding":{"x":{"field":"col","type":"nominal","axis":null,"scale":{"type":"point","domain":["key","label"],"range":[206,316],"padding":0}},"y":{"field":"v","type":"quantitative","axis":null,"scale":{"domain":[-1.8,113.3],"nice":false,"zero":false}},"text":{"field":"v","type":"quantitative","format":"d"}}}
]}
]},
{"bounds":"flush","spacing":0,"hconcat":[
{"width":763.2,"height":762,"title":{"text":"(c)","orient":"bottom","anchor":"middle","dx":137,"offset":60,"fontSize":46,"fontWeight":"bold"},"data":{"name":"c"},
"mark":{"type":"point","filled":true,"opacity":1,"strokeWidth":0.8,"shape":"M0,-1L0.869,-0.5L0.869,0.5L0,1L-0.869,0.5L-0.869,-0.5Z","size":729},
"encoding":{"x":{"field":"x","type":"quantitative","scale":{"domain":[-10.73,10.99],"nice":false,"zero":false},"axis":{"values":[-10,-5,0,5,10],"title":"𝜃[1]","titleX":376,"titleY":152,"labelExpr":"replace(datum.label,'−','-')"}},
"y":{"field":"y","type":"quantitative","scale":{"domain":[-10.27,10.78],"nice":false,"zero":false},"axis":{"values":[-10,-5,0,5,10],"title":"𝜃[2]","titleX":-143,"titleY":375,"labelExpr":"replace(datum.label,'−','-')"}},
"fill":{"field":"c","type":"ordinal","legend":null,"scale":{"domain":[1,38,75,112,150,187,224,261,298,335,372,409,446,484,521,558,595],"range":["#5E4FA2","#4273B3","#3F96B7","#5FBBA8","#88CFA4","#B2E0A2","#D7EF9B","#EFF9A7","#FFFFBF","#FEEB9E","#FED380","#FDB466","#F98E52","#F06744","#DD4A4C","#C0274A","#9E0142"]}},
"stroke":{"field":"c","type":"ordinal","legend":null,"scale":{"domain":[1,38,75,112,150,187,224,261,298,335,372,409,446,484,521,558,595],"range":["#5E4FA2","#4273B3","#3F96B7","#5FBBA8","#88CFA4","#B2E0A2","#D7EF9B","#EFF9A7","#FFFFBF","#FEEB9E","#FED380","#FDB466","#F98E52","#F06744","#DD4A4C","#C0274A","#9E0142"]}}}},
{"width":400,"height":762,"view":{"stroke":null},"title":{"text":"Counts","orient":"top","anchor":"middle","dx":62.5,"offset":-93,"fontSize":68,"fontWeight":"normal"},
"layer":[
{"data":{"name":"kc"},"transform":[{"calculate":"'key'","as":"col"}],"mark":{"type":"point","filled":true,"opacity":1,"stroke":"#111","strokeWidth":1.3,"shape":"M0,-1L0.872,-0.5L0.872,0.5L0,1L-0.872,0.5L-0.872,-0.5Z","size":1480},
"encoding":{"x":{"field":"col","type":"nominal","axis":null,"scale":{"type":"point","domain":["key","label"],"range":[206.5,316.5],"padding":0}},"y":{"field":"v","type":"quantitative","axis":null,"scale":{"domain":[-16.5,724.3],"nice":false,"zero":false}},
"fill":{"field":"c","type":"ordinal","legend":null,"scale":{"domain":[1,38,75,112,150,187,224,261,298,335,372,409,446,484,521,558,595],"range":["#5E4FA2","#4273B3","#3F96B7","#5FBBA8","#88CFA4","#B2E0A2","#D7EF9B","#EFF9A7","#FFFFBF","#FEEB9E","#FED380","#FDB466","#F98E52","#F06744","#DD4A4C","#C0274A","#9E0142"]}}}},
{"data":{"name":"lc"},"transform":[{"calculate":"'label'","as":"col"}],"mark":{"type":"text","font":"Liberation Serif","fontSize":33,"color":"#111","baseline":"middle","align":"center"},
"encoding":{"x":{"field":"col","type":"nominal","axis":null,"scale":{"type":"point","domain":["key","label"],"range":[206.5,316.5],"padding":0}},"y":{"field":"v","type":"quantitative","axis":null,"scale":{"domain":[-16.5,724.3],"nice":false,"zero":false}},"text":{"field":"v","type":"quantitative","format":"d"}}}
]}
]}
]}
